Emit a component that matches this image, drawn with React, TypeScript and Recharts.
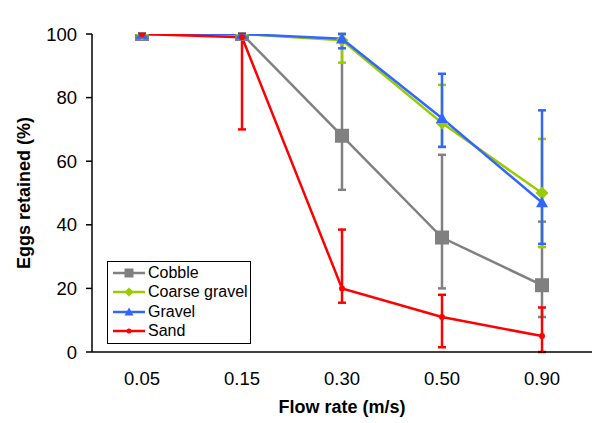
import React from "react";
import { LineChart, Line, XAxis, YAxis, ErrorBar, Legend, Label } from "recharts";

const categories = ["0.05", "0.15", "0.30", "0.50", "0.90"];

const cobble = [100, 100, 68, 36, 21];
const cobbleLow = [100, 100, 51, 20, 11];
const cobbleHigh = [100, 100, 100, 62, 41];

const coarseGravel = [100, 100, 98, 72, 50];
const coarseGravelLow = [100, 100, 91, 64.5, 33];
const coarseGravelHigh = [100, 100, 100, 84, 67];

const gravel = [100, 100, 98.5, 73.5, 47];
const gravelLow = [100, 100, 95.5, 64.5, 34];
const gravelHigh = [100, 100, 100, 87.5, 76];

const sand = [100, 99, 20, 11, 5];
const sandLow = [100, 70, 15.5, 1.5, 0];
const sandHigh = [100, 100, 38.5, 18, 14];

const yTicks = [0, 20, 40, 60, 80, 100];

const FONT = '"Liberation Sans", Arial, sans-serif';

type Shape = "square" | "diamond" | "triangle" | "circle";

const series: {
  key: string;
  name: string;
  color: string;
  shape: Shape;
  size: number;
  values: number[];
  low: number[];
  high: number[];
}[] = [
  { key: "cobble", name: "Cobble", color: "#808080", shape: "square", size: 14, values: cobble, low: cobbleLow, high: cobbleHigh },
  { key: "coarse", name: "Coarse gravel", color: "#99cc00", shape: "diamond", size: 13, values: coarseGravel, low: coarseGravelLow, high: coarseGravelHigh },
  { key: "gravel", name: "Gravel", color: "#3366ff", shape: "triangle", size: 12, values: gravel, low: gravelLow, high: gravelHigh },
  { key: "sand", name: "Sand", color: "#ff0000", shape: "circle", size: 6, values: sand, low: sandLow, high: sandHigh },
];

const data = categories.map((flow, i) => {
  const row: Record<string, any> = { flow };
  series.forEach((s) => {
    row[s.key] = s.values[i];
    row[s.key + "Err"] = [s.values[i] - s.low[i], s.high[i] - s.values[i]];
  });
  return row;
});

function Marker({ shape, cx, cy, color, size }: { shape: Shape; cx: number; cy: number; color: string; size: number }) {
  const h = size / 2;
  if (shape === "square") {
    return <rect x={cx - h} y={cy - h} width={size} height={size} fill={color} />;
  }
  if (shape === "diamond") {
    return <polygon points={`${cx},${cy - h} ${cx + h},${cy} ${cx},${cy + h} ${cx - h},${cy}`} fill={color} />;
  }
  if (shape === "triangle") {
    return <polygon points={`${cx},${cy - h} ${cx + h},${cy + h * 0.8} ${cx - h},${cy + h * 0.8}`} fill={color} />;
  }
  return <circle cx={cx} cy={cy} r={h} fill={color} />;
}

function LegendBox() {
  return (
    <div
      style={{
        border: "1px solid #000",
        background: "#fff",
        padding: "1px 2px 2px 5px",
        fontFamily: FONT,
        fontSize: 16,
        color: "#000",
      }}
    >
      {series.map((s) => (
        <div key={s.key} style={{ display: "flex", alignItems: "center", height: 19.5 }}>
          <svg width={32} height={14} style={{ marginRight: 3 }}>
            <line x1={0} y1={7} x2={32} y2={7} stroke={s.color} strokeWidth={2.5} />
            <Marker shape={s.shape} cx={16} cy={7} color={s.color} size={s.shape === "circle" ? 5 : 9} />
          </svg>
          <span>{s.name}</span>
        </div>
      ))}
    </div>
  );
}

export default function App() {
  return (
    <div style={{ width: 594, height: 415, fontFamily: FONT }}>
      <LineChart width={594} height={415} data={data} margin={{ top: 26, right: 10, left: 0, bottom: 0 }}>
        <XAxis
          dataKey="flow"
          height={71}
          padding={{ left: 50, right: 50 }}
          axisLine={{ stroke: "#000", strokeWidth: 1.5 }}
          tickLine={false}
          tickSize={0}
          tickMargin={20}
          tick={{ fill: "#000", fontSize: 18.5, fontFamily: FONT }}
        >
          <Label
            value="Flow rate (m/s)"
            position="insideBottom"
            offset={10}
            style={{ fontWeight: "bold", fontSize: 18, fill: "#000", fontFamily: FONT }}
          />
        </XAxis>
        <YAxis
          width={84}
          domain={[0, 100]}
          ticks={yTicks}
          allowDataOverflow
          axisLine={{ stroke: "#000", strokeWidth: 1.5 }}
          tickLine={{ stroke: "#000", strokeWidth: 1.5 }}
          tickSize={6}
          tickMargin={9}
          tick={{ fill: "#000", fontSize: 18.5, fontFamily: FONT }}
        >
          <Label
            value="Eggs retained (%)"
            angle={-90}
            position="insideLeft"
            offset={16}
            style={{ fontWeight: "bold", fontSize: 18, fill: "#000", fontFamily: FONT, textAnchor: "middle" }}
          />
        </YAxis>
        <Legend
          layout="vertical"
          align="center"
          verticalAlign="middle"
          wrapperStyle={{ left: 99, top: 253, width: "auto" }}
          content={() => <LegendBox />}
        />
        {series.map((s) => (
          <Line
            key={s.key}
            dataKey={s.key}
            name={s.name}
            stroke={s.color}
            strokeWidth={2.5}
            isAnimationActive={false}
            activeDot={false}
            dot={(p: any) => (
              <Marker key={`${s.key}-${p.index}`} shape={s.shape} cx={p.cx} cy={p.cy} color={s.color} size={s.size} />
            )}
          >
            <ErrorBar dataKey={s.key + "Err"} direction="y" width={4} stroke={s.color} strokeWidth={2.5} />
          </Line>
        ))}
      </LineChart>
    </div>
  );
}
